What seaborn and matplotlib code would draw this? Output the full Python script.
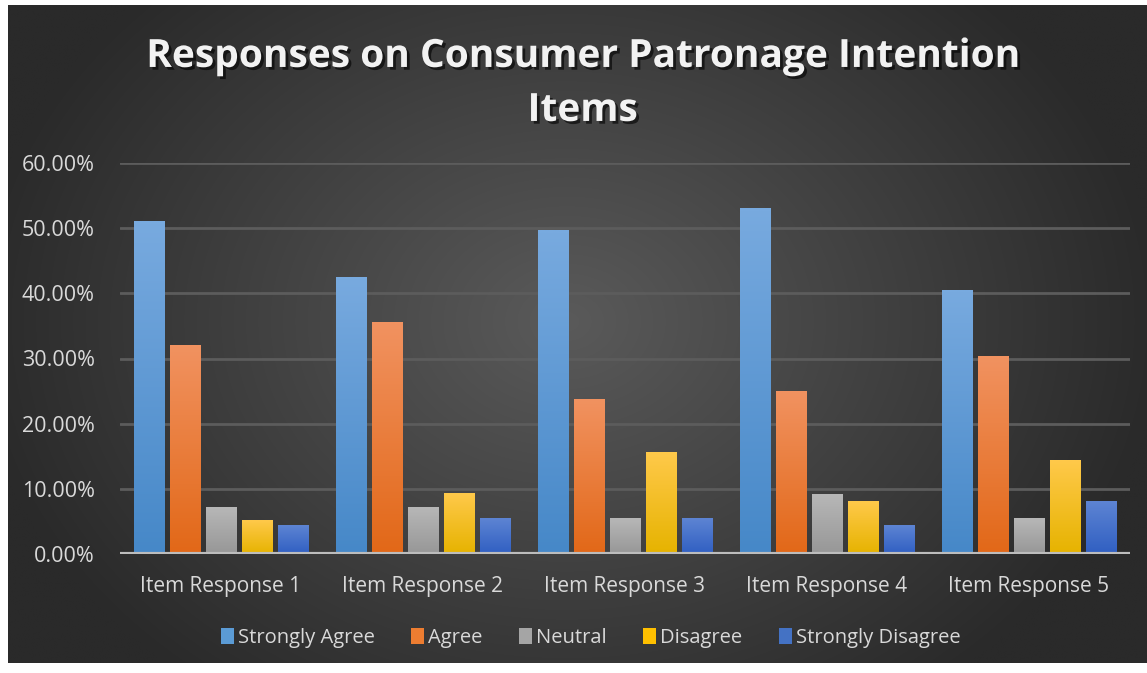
import numpy as np
import pandas as pd
import matplotlib
matplotlib.use('Agg')
import matplotlib.pyplot as plt
import matplotlib.colors as mcolors
import matplotlib.patheffects as pe
from matplotlib.patches import Patch
from matplotlib.ticker import PercentFormatter
import seaborn as sns

## data
items = ['Item Response 1', 'Item Response 2', 'Item Response 3',
         'Item Response 4', 'Item Response 5']
levels = ['Strongly Agree', 'Agree', 'Neutral', 'Disagree', 'Strongly Disagree']
strongly_agree = [0.510, 0.424, 0.496, 0.530, 0.404]
agree = [0.320, 0.355, 0.237, 0.250, 0.303]
neutral = [0.072, 0.072, 0.055, 0.092, 0.055]
disagree = [0.052, 0.093, 0.156, 0.081, 0.144]
strongly_disagree = [0.043, 0.055, 0.055, 0.044, 0.081]

df = pd.DataFrame({
    'item': items * 5,
    'level': np.repeat(levels, len(items)),
    'value': strongly_agree + agree + neutral + disagree + strongly_disagree,
})

base_colors = ['#5b9bd5', '#ed7d31', '#a5a5a5', '#ffc000', '#4472c4']
# top / bottom colours for the vertical gradient of each bar
grad = {
    '#5b9bd5': ('#78aadf', '#4688c8'),
    '#ed7d31': ('#f19260', '#e26818'),
    '#a5a5a5': ('#b7b7b7', '#979797'),
    '#ffc000': ('#ffc94a', '#e6b300'),
    '#4472c4': ('#5d84d3', '#305fc2'),
}

sns.set_style('dark')
plt.rcParams['font.family'] = ['Open Sans', 'DejaVu Sans']
txt = '#d9d9d9'

fig = plt.figure(figsize=(11.47, 6.73), dpi=100, facecolor='white')

## radial gradient background
bg = fig.add_axes([8 / 1147, 10 / 673, 1 - 8 / 1147, 1 - 15 / 673], zorder=-5)
yy, xx = np.mgrid[0:400, 0:700]
cx, cy = 0.49 * 700, 0.48 * 400
d = np.sqrt(((xx - cx) / 700) ** 2 + ((yy - cy) / 400) ** 2 * 0.55)
d = np.clip(d / 0.52, 0, 1)
c_in = np.array(mcolors.to_rgb('#5a5a5a'))
c_out = np.array(mcolors.to_rgb('#2a2a2a'))
img = c_in[None, None, :] * (1 - d[..., None]) + c_out[None, None, :] * d[..., None]
bg.imshow(img, aspect='auto', interpolation='bilinear')
bg.set_axis_off()

## bars
ax = fig.add_axes([120 / 1147, 1 - 554 / 673, 1010 / 1147, 391 / 673])
ax.set_facecolor('none')
sns.barplot(data=df, x='item', y='value', hue='level', order=items,
            hue_order=levels, palette=base_colors, saturation=1,
            width=0.89, gap=0.15, legend=False, ax=ax, zorder=3)

for p in list(ax.patches):
    key = mcolors.to_hex(p.get_facecolor())
    top, bot = grad.get(key, (key, key))
    x0, w, h = p.get_x(), p.get_width(), p.get_height()
    g = np.linspace(0, 1, 64)[:, None, None]
    cimg = (np.array(mcolors.to_rgb(top)) * (1 - g)
            + np.array(mcolors.to_rgb(bot)) * g)
    ax.imshow(cimg, extent=[x0, x0 + w, 0, h], aspect='auto', zorder=3,
              interpolation='bilinear')
    p.set_facecolor('none')
    p.set_edgecolor('none')

ax.set_xlim(-0.5, 4.5)
ax.set_ylim(0, 0.6)
ax.set_yticks(np.arange(0, 0.61, 0.1))
ax.yaxis.set_major_formatter(PercentFormatter(1.0, decimals=2))
ax.grid(axis='y', color='#5c5c5c', linewidth=2, zorder=0)
ax.grid(axis='x', visible=False)
for s in ax.spines.values():
    s.set_visible(False)
ax.axhline(0, color='#bdbdbd', linewidth=3, zorder=4)
ax.tick_params(axis='y', length=0, pad=18, labelsize=15.5, labelcolor=txt)
ax.tick_params(axis='x', length=0, pad=16, labelsize=15, labelcolor=txt)
ax.set_xlabel('')
ax.set_ylabel('')

## title
fig.text(0.508, 0.876, 'Responses on Consumer Patronage Intention\nItems',
         ha='center', va='center', fontsize=28, fontweight='bold',
         color='#f2f2f2', linespacing=1.5,
         path_effects=[pe.withSimplePatchShadow(offset=(2, -2),
                                                shadow_rgbFace='black',
                                                alpha=0.6)])

## legend
handles = [Patch(facecolor=c, edgecolor='none') for c in base_colors]
leg = fig.legend(handles, levels, loc='center', ncol=5,
                 bbox_to_anchor=(0.515, 1 - 638 / 673), frameon=False,
                 fontsize=14.5, handlelength=0.65, handleheight=0.8,
                 handletextpad=0.2, columnspacing=1.8)
for t in leg.get_texts():
    t.set_color(txt)

fig.savefig('out.png', dpi=100, facecolor='white')
